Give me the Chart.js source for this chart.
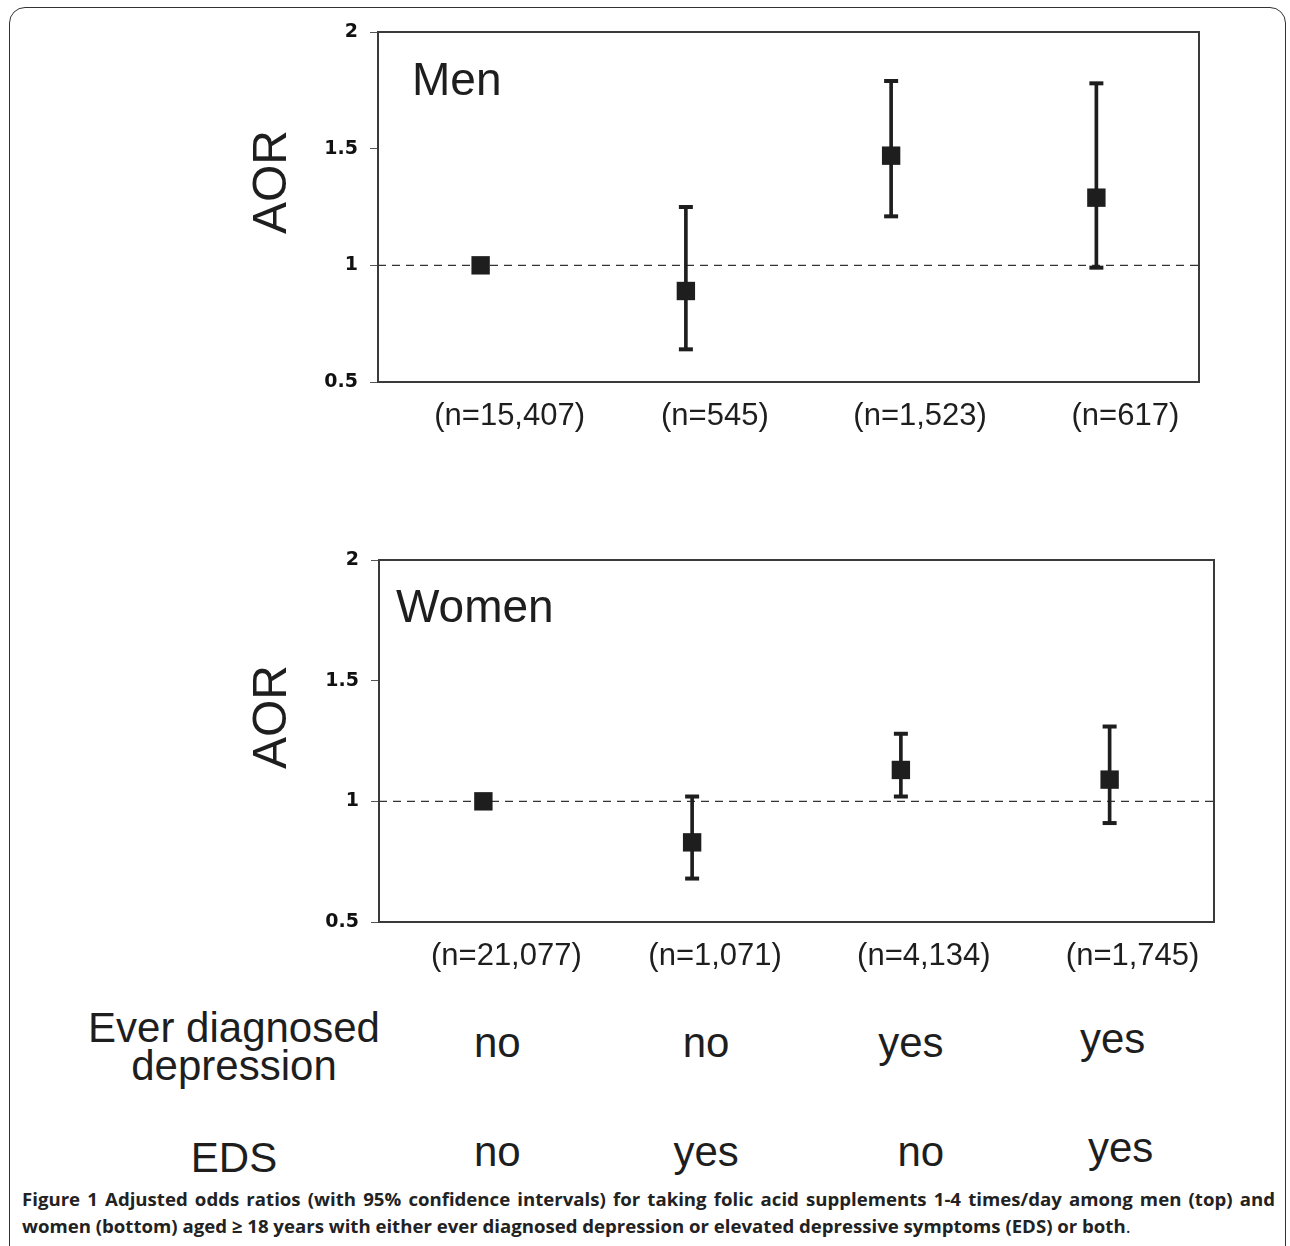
<!DOCTYPE html>
<html>
<head>
<meta charset="utf-8">
<script src="https://cdn.jsdelivr.net/npm/chart.js@4.4.1/dist/chart.umd.min.js"></script>
<style>
  body { margin: 0; background: #fff; }
  #page { position: relative; width: 1290px; height: 1246px; overflow: hidden; font-family: "Liberation Sans", Arial, sans-serif; color: #1e1e1e; }
  #frame { position: absolute; left: 9px; top: 7px; width: 1277px; height: 1270px; border: 1.5px solid #333; border-radius: 16px; box-sizing: border-box; }
  canvas { position: absolute; left: 0; }
  .txt { position: absolute; white-space: nowrap; }
  .panel { font-size: 46px; line-height: 46px; }
  .aor { font-size: 48px; line-height: 48px; transform: translate(-50%, -50%) rotate(-90deg); }
  .rowlab { font-size: 42px; line-height: 38px; text-align: center; width: 340px; }
  .cell { font-size: 42px; line-height: 42px; text-align: center; width: 140px; }
  .cap { position: absolute; left: 22px; font-family: "Open Sans", sans-serif; font-size: 18px; line-height: 20px; font-weight: bold; color: #222; white-space: nowrap; transform-origin: 0 0; }
</style>
</head>
<body>
<div id="page">
  <div id="frame"></div>
  <canvas id="menChart" width="1290" height="450" style="top:0"></canvas>
  <canvas id="womenChart" width="1290" height="480" style="top:500px"></canvas>

  <div class="txt panel" style="left:412px; top:56px">Men</div>
  <div class="txt panel" style="left:396px; top:583px">Women</div>
  <div class="txt aor" style="left:270px; top:182px">AOR</div>
  <div class="txt aor" style="left:270px; top:717px">AOR</div>

  <div id="table"></div>

  <div class="cap" id="cap1" style="top:1189px">Figure 1 Adjusted odds ratios (with 95% confidence intervals) for taking folic acid supplements 1-4 times/day among men (top) and</div>
  <div class="cap" id="cap2" style="top:1216px">women (bottom) aged ≥ 18 years with either ever diagnosed depression or elevated depressive symptoms (EDS) or both<span style="font-weight:normal">.</span></div>
</div>

<script>
// sample sizes shown under each group
const menN = ['(n=15,407)', '(n=545)', '(n=1,523)', '(n=617)']
const womenN = ['(n=21,077)', '(n=1,071)', '(n=4,134)', '(n=1,745)']

// adjusted odds ratios and 95% CI
const menAor = [1.00, 0.89, 1.47, 1.29]
const menLow = [null, 0.64, 1.21, 0.99]
const menHigh = [null, 1.25, 1.79, 1.78]

const womenAor = [1.00, 0.83, 1.13, 1.09]
const womenLow = [null, 0.68, 1.02, 0.91]
const womenHigh = [null, 1.02, 1.28, 1.31]

const yTicks = [0.5, 1, 1.5, 2]
const refValue = 1

// bottom table
const rowLabels = [['Ever diagnosed', 'depression'], ['EDS']]
const everDiagnosed = ['no', 'no', 'yes', 'yes']
const eds = ['no', 'yes', 'no', 'yes']

const ink = '#1e1e1e'

// box round the plot area and dashed line at AOR = 1
const framePlugin = {
  id: 'frame',
  beforeDatasetsDraw(chart) {
    const { ctx, chartArea: a, scales } = chart
    const y = scales.y.getPixelForValue(refValue)
    ctx.save()
    ctx.strokeStyle = '#333'
    ctx.lineWidth = 1.2
    ctx.setLineDash([8, 6])
    ctx.beginPath()
    ctx.moveTo(a.left, y)
    ctx.lineTo(a.right, y)
    ctx.stroke()
    ctx.setLineDash([])
    ctx.strokeStyle = '#3a3a3a'
    ctx.lineWidth = 2
    ctx.strokeRect(a.left, a.top, a.right - a.left, a.bottom - a.top)
    ctx.restore()
  }
}

const makeChart = (el, nLabels, aor, low, high, pad, yWidth, xHeight, labelShift) => {
  const ranges = low.map((v, i) => v === null ? null : [v, high[i]])
  return new Chart(el, {
    type: 'bar',
    data: {
      labels: nLabels,
      datasets: [
        {
          type: 'line', label: 'AOR', data: aor, showLine: false,
          pointStyle: 'rect', pointRadius: 13, pointHoverRadius: 13,
          backgroundColor: ink, borderWidth: 0, order: 0
        },
        {
          type: 'line', label: 'upper', data: high, showLine: false,
          pointStyle: 'line', pointRadius: 7, pointHoverRadius: 7,
          borderColor: ink, borderWidth: 4, order: 1
        },
        {
          type: 'line', label: 'lower', data: low, showLine: false,
          pointStyle: 'line', pointRadius: 7, pointHoverRadius: 7,
          borderColor: ink, borderWidth: 4, order: 1
        },
        {
          label: '95% CI', data: ranges, barThickness: 3,
          backgroundColor: ink, borderWidth: 0, order: 2
        }
      ]
    },
    options: {
      responsive: false,
      animation: false,
      layout: { padding: pad },
      plugins: { legend: { display: false }, tooltip: { enabled: false } },
      scales: {
        x: {
          offset: true,
          grid: { display: false },
          border: { display: false },
          ticks: {
            color: '#1e1e1e', padding: 8, labelOffset: labelShift,
            font: { family: '"Liberation Sans", Arial, sans-serif', size: 31 }
          },
          afterFit: (s) => { s.height = xHeight }
        },
        y: {
          min: 0.5, max: 2,
          afterBuildTicks: (s) => { s.ticks = yTicks.map(v => ({ value: v })) },
          grid: { drawOnChartArea: false, drawTicks: true, tickLength: 8, color: '#555' },
          border: { display: false },
          ticks: {
            color: '#111', padding: 12,
            callback: (v) => String(v),
            font: { family: '"DejaVu Sans", sans-serif', size: 19, weight: 'bold' }
          },
          afterFit: (s) => { s.width = yWidth }
        }
      }
    },
    plugins: [framePlugin]
  })
}

const menChart = makeChart(document.getElementById('menChart'), menN, menAor, menLow, menHigh,
  { top: 32, right: 91, left: 0, bottom: 0 }, 378, 68, 29)
const womenChart = makeChart(document.getElementById('womenChart'), womenN, womenAor, womenLow, womenHigh,
  { top: 60, right: 76, left: 0, bottom: 0 }, 379, 58, 23)

// table under the women's panel, columns follow the women's categories
const table = document.getElementById('table')
const colShift = [[14, 14, 10, 3], [14, 14, 20, 11]]
const rowBase = [1058, 1167]
const addText = (cls, text, cx, baseline, size, width) => {
  const d = document.createElement('div')
  d.className = 'txt ' + cls
  d.innerHTML = text
  d.style.left = (cx - width / 2) + 'px'
  d.style.top = (baseline - 0.8465 * size) + 'px'
  table.appendChild(d)
}
const xs = womenChart.scales.x
;[everDiagnosed, eds].forEach((row, r) => {
  row.forEach((t, i) => {
    const cx = xs.getPixelForValue(i) + colShift[r][i]
    addText('cell', t, cx, rowBase[r] - (i === 3 ? 4 : 0), 42, 140)
  })
})
addText('rowlab', rowLabels[0].join('<br>'), 234, 1041, 38, 340)
addText('rowlab', rowLabels[1][0], 234, 1171, 38, 340)

// caption in a condensed look: one horizontal squeeze for both lines,
// first line spread to the full measure
const cap1 = document.getElementById('cap1')
const cap2 = document.getElementById('cap2')
const squeeze = (1253 / cap1.offsetWidth + 1068 / cap2.offsetWidth) / 2
const gaps = cap1.textContent.split(' ').length - 1
cap1.style.wordSpacing = ((1253 / squeeze - cap1.offsetWidth) / gaps) + 'px'
cap1.style.transform = `scaleX(${squeeze})`
cap2.style.transform = `scaleX(${squeeze})`
</script>
</body>
</html>
